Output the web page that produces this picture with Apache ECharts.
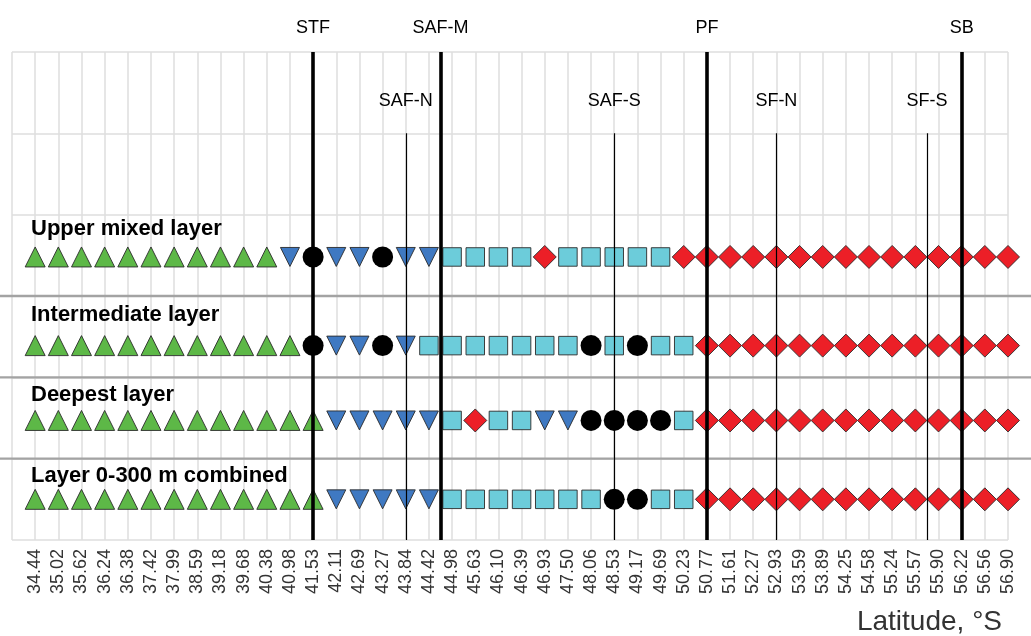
<!DOCTYPE html>
<html>
<head>
<meta charset="utf-8">
<title>Water mass classes by latitude</title>
<script src="https://cdn.jsdelivr.net/npm/echarts@6/dist/echarts.min.js"></script>
<style>
  html, body { margin: 0; padding: 0; background: #fff; }
  #chart { width: 1031px; height: 636px; }
</style>
</head>
<body>
<div id="chart"></div>
<script>
// Station latitudes (°S), one column per station
const latitudes = ['34.44','35.02','35.62','36.24','36.38','37.42','37.99','38.59','39.18','39.68',
  '40.38','40.98','41.53','42.11','42.69','43.27','43.84','44.42','44.98','45.63','46.10','46.39',
  '46.93','47.50','48.06','48.53','49.17','49.69','50.23','50.77','51.61','52.27','52.93','53.59',
  '53.89','54.25','54.58','55.24','55.57','55.90','56.22','56.56','56.90'];

// Layer names, top to bottom
const layerNames = ['Upper mixed layer', 'Intermediate layer', 'Deepest layer', 'Layer 0-300 m combined'];

// Class of each station per layer: T, V, C, S, D
const upperMixedLayer   = 'TTTTTTTTTTTVCVVCVVSSSSDSSSSSDDDDDDDDDDDDDDD'.split('');
const intermediateLayer = 'TTTTTTTTTTTTCVVCVSSSSSSSCSCSSDDDDDDDDDDDDDD'.split('');
const deepestLayer      = 'TTTTTTTTTTTTTVVVVVSDSSVVCCCCSDDDDDDDDDDDDDD'.split('');
const combinedLayer     = 'TTTTTTTTTTTTTVVVVVSSSSSSSCCSSDDDDDDDDDDDDDD'.split('');
const layers = [upperMixedLayer, intermediateLayer, deepestLayer, combinedLayer];

// Fronts, positioned in station-index units
const majorFrontNames = ['STF', 'SAF-M', 'PF', 'SB'];
const majorFrontPos   = [12, 17.5, 29, 40];
const minorFrontNames = ['SAF-N', 'SAF-S', 'SF-N', 'SF-S'];
const minorFrontPos   = [16, 25, 32, 38.5];

// ---- layout and styles ----
const rowMarkerY = [2.52, 3.61, 4.53, 5.50];   // y-axis units (0 = top of panel)
const rowLabelY  = [2.18, 3.23, 4.22, 5.21];
const separatorY = [3, 4, 5];
const FONT = '"Liberation Sans", Arial, Helvetica, sans-serif';

const classStyle = {
  T: { symbol: 'triangle', size: [20, 20], rotate: 0,   color: '#5DB847' },
  V: { symbol: 'triangle', size: [19, 19], rotate: 180, color: '#3F79C2' },
  C: { symbol: 'circle',   size: 21,       rotate: 0,   color: '#000000' },
  S: { symbol: 'rect',     size: 18.5,     rotate: 0,   color: '#6CCCDA' },
  D: { symbol: 'diamond',  size: [23, 23], rotate: 0,   color: '#EC1F27' }
};

const markerSeries = Object.keys(classStyle).map(function (key) {
  const st = classStyle[key];
  const pts = [];
  layers.forEach(function (row, r) {
    row.forEach(function (cls, i) {
      if (cls === key) pts.push([i, rowMarkerY[r]]);
    });
  });
  return {
    type: 'scatter',
    name: key,
    data: pts,
    symbol: st.symbol,
    symbolSize: st.size,
    symbolRotate: st.rotate,
    z: 3,
    silent: true,
    itemStyle: {
      color: st.color,
      borderColor: key === 'C' ? '#000' : '#2a2a2a',
      borderWidth: key === 'C' ? 0 : 0.9,
      opacity: 1
    }
  };
});

const frontLines = [];
majorFrontNames.forEach(function (n, k) {
  frontLines.push([
    { coord: [majorFrontPos[k], 6], name: n,
      lineStyle: { width: 3.6, color: '#000', type: 'solid' },
      label: { show: true, position: 'end', distance: 15, formatter: n } },
    { coord: [majorFrontPos[k], 0] }
  ]);
});
minorFrontNames.forEach(function (n, k) {
  frontLines.push([
    { coord: [minorFrontPos[k], 6], name: n,
      lineStyle: { width: 1.2, color: '#000', type: 'solid' },
      label: { show: true, position: 'end', distance: 23, formatter: n } },
    { coord: [minorFrontPos[k], 1] }
  ]);
});

const frontSeries = {
  type: 'scatter',
  name: 'fronts',
  data: [],
  z: 5,
  silent: true,
  markLine: {
    silent: true,
    symbol: ['none', 'none'],
    animation: false,
    label: { color: '#000', fontFamily: FONT, fontSize: 18 },
    data: frontLines
  }
};

const chart = echarts.init(document.getElementById('chart'), null, { renderer: 'canvas' });

const option = {
  animation: false,
  backgroundColor: '#ffffff',
  grid: { left: 12, right: 23, top: 52, bottom: 96 },
  xAxis: {
    type: 'value',
    min: -1, max: 42, interval: 1,
    axisLine: { show: false },
    axisTick: { show: false },
    splitLine: { show: true, lineStyle: { color: '#dedede', width: 1.5 } },
    axisLabel: {
      rotate: 90,
      margin: 9,
      fontSize: 18,
      fontFamily: FONT,
      color: '#333',
      showMinLabel: true,
      showMaxLabel: true,
      formatter: function (v) { return latitudes[v] !== undefined ? latitudes[v] : ''; }
    }
  },
  yAxis: {
    type: 'value',
    min: 0, max: 6, interval: 1,
    inverse: true,
    axisLine: { show: false },
    axisTick: { show: false },
    axisLabel: { show: false },
    splitLine: { show: true, lineStyle: { color: '#dedede', width: 1.5 } }
  },
  series: markerSeries.concat([frontSeries])
};

chart.setOption(option);

// Row separators across the full width, row titles, and the axis title
const W = chart.getWidth();
const graphics = [];
separatorY.forEach(function (v) {
  const py = chart.convertToPixel({ yAxisIndex: 0 }, v);
  graphics.push({
    type: 'line', z: 4, silent: true,
    shape: { x1: 0, y1: py, x2: W, y2: py },
    style: { stroke: '#a3a3a3', lineWidth: 2.4 }
  });
});
layerNames.forEach(function (name, r) {
  const py = chart.convertToPixel({ yAxisIndex: 0 }, rowLabelY[r]);
  graphics.push({
    type: 'text', z: 6, silent: true,
    x: 31, y: py,
    style: {
      text: name, fill: '#000',
      font: 'bold 22px ' + FONT,
      textAlign: 'left', textVerticalAlign: 'middle'
    }
  });
});
graphics.push({
  type: 'text', z: 6, silent: true,
  x: 1002, y: 622,
  style: {
    text: 'Latitude, °S', fill: '#333',
    font: '28px ' + FONT,
    textAlign: 'right', textVerticalAlign: 'middle'
  }
});
chart.setOption({ graphic: graphics });
</script>
</body>
</html>
